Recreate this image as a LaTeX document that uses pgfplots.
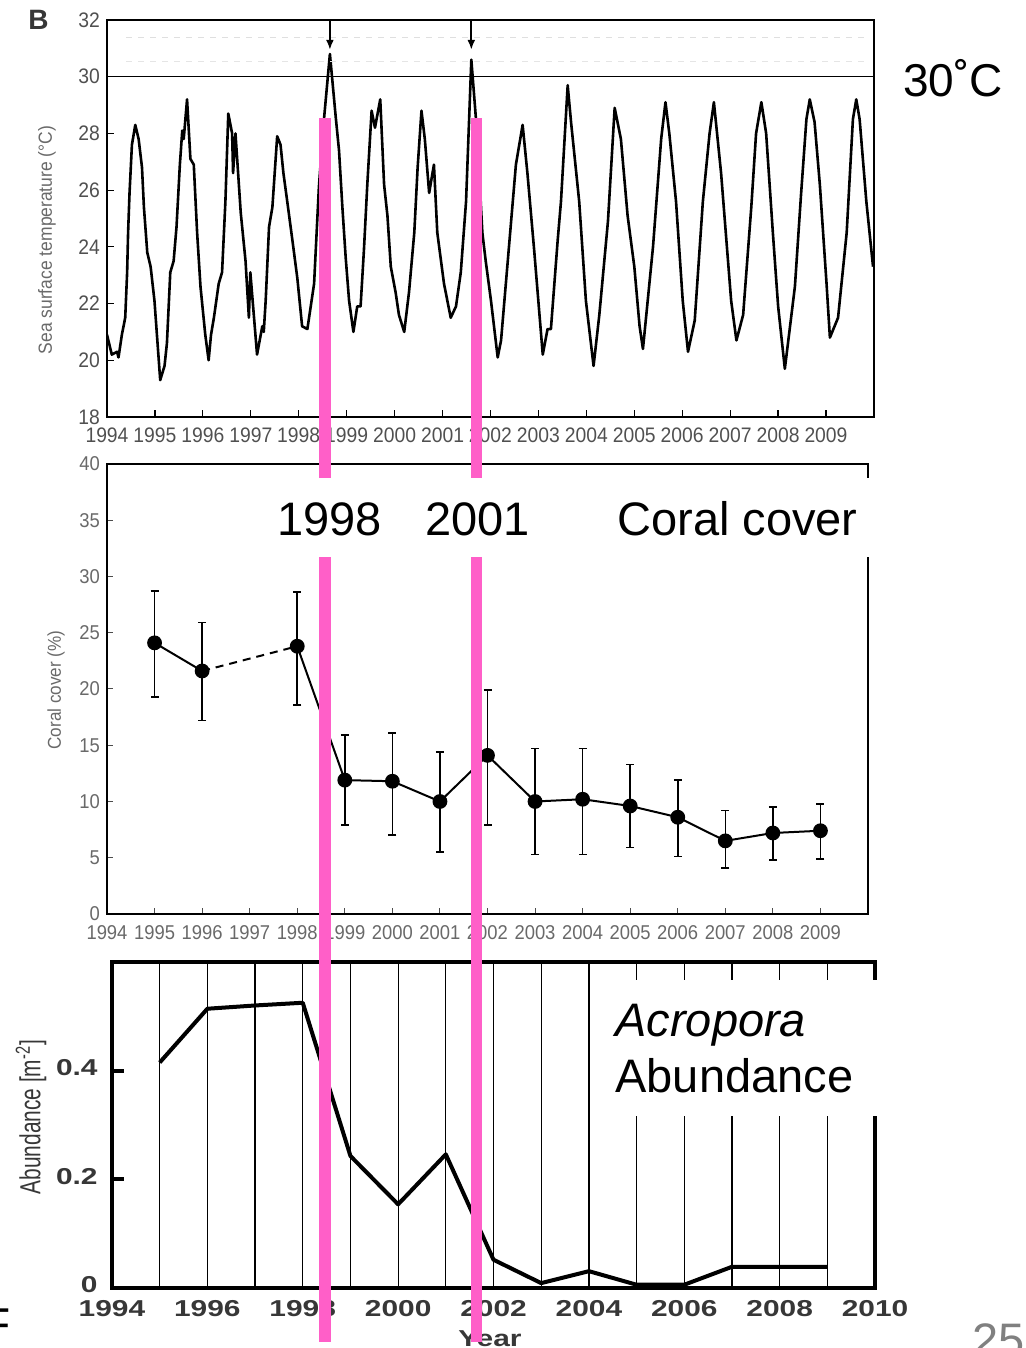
\documentclass[border=0pt]{standalone}
\usepackage{pgfplots}
\pgfplotsset{compat=1.18}
\usepackage{fontspec}
\setmainfont{Liberation Sans}
\setsansfont{Liberation Sans}
\newfontfamily\tickfont[FakeStretch=0.92]{Liberation Sans}
\newfontfamily\narrowfont[FakeStretch=0.72]{Liberation Sans}
\newfontfamily\widefont[FakeStretch=1.3]{Liberation Sans}
\usetikzlibrary{arrows.meta}
\definecolor{barpink}{RGB}{255,95,200}
\definecolor{sstgray}{RGB}{80,80,80}
\definecolor{coralgray}{RGB}{105,105,105}
\definecolor{abgray}{RGB}{55,55,55}

% sea surface temperature
\pgfplotstableread{
year T
1994.00 20.9
1994.10 20.2
1994.21 20.3
1994.24 20.1
1994.31 20.9
1994.38 21.5
1994.42 23.1
1994.44 24.5
1994.47 25.9
1994.52 27.6
1994.59 28.3
1994.66 27.8
1994.73 26.8
1994.77 25.4
1994.84 23.8
1994.91 23.3
1994.99 22.1
1995.11 19.3
1995.20 19.8
1995.25 20.6
1995.32 23.1
1995.39 23.5
1995.45 24.7
1995.52 26.9
1995.57 28.1
1995.60 27.8
1995.67 29.2
1995.74 27.1
1995.81 26.9
1995.88 24.5
1995.95 22.6
1996.05 20.9
1996.12 20.0
1996.17 20.9
1996.23 21.5
1996.33 22.7
1996.40 23.1
1996.47 25.6
1996.53 28.7
1996.61 28.0
1996.63 26.6
1996.68 28.0
1996.79 25.2
1996.89 23.5
1996.96 21.5
1996.99 23.1
1997.13 20.2
1997.24 21.2
1997.27 21.0
1997.31 22.1
1997.38 24.7
1997.45 25.4
1997.55 27.9
1997.62 27.6
1997.68 26.6
1997.76 25.6
1997.87 24.2
1997.97 22.9
1998.07 21.2
1998.18 21.1
1998.32 22.7
1998.42 26.1
1998.51 28.2
1998.65 30.8
1998.77 28.6
1998.84 27.4
1998.91 25.4
1998.98 23.6
1999.05 22.1
1999.14 21.0
1999.22 21.9
1999.29 21.9
1999.36 23.9
1999.43 26.2
1999.52 28.8
1999.59 28.2
1999.70 29.2
1999.78 26.2
1999.85 25.1
1999.92 23.3
2000.02 22.4
2000.09 21.6
2000.20 21.0
2000.30 22.4
2000.41 24.5
2000.48 26.8
2000.56 28.8
2000.63 27.8
2000.72 25.9
2000.82 26.9
2000.89 24.5
2001.03 22.7
2001.17 21.5
2001.28 21.9
2001.38 23.1
2001.49 25.6
2001.60 30.6
2001.72 28.0
2001.83 24.5
2001.90 23.5
2002.01 22.1
2002.15 20.1
2002.22 20.7
2002.29 22.1
2002.43 24.9
2002.53 26.9
2002.67 28.3
2002.77 26.6
2002.91 23.9
2003.09 20.2
2003.19 21.1
2003.26 21.1
2003.40 24.2
2003.47 25.6
2003.61 29.7
2003.68 28.4
2003.85 25.6
2003.99 22.1
2004.15 19.8
2004.27 21.6
2004.45 24.9
2004.59 28.9
2004.72 27.8
2004.86 25.1
2005.00 23.3
2005.11 21.2
2005.18 20.4
2005.39 24.0
2005.56 27.8
2005.65 29.1
2005.73 28.0
2005.87 25.6
2006.01 22.1
2006.12 20.3
2006.26 21.4
2006.43 25.6
2006.57 28.0
2006.66 29.1
2006.81 26.6
2007.02 22.1
2007.13 20.7
2007.27 21.6
2007.44 25.4
2007.54 28.0
2007.65 29.1
2007.75 28.0
2007.89 24.5
2008.00 21.9
2008.14 19.7
2008.35 22.6
2008.48 25.9
2008.59 28.5
2008.66 29.2
2008.76 28.4
2008.87 26.2
2009.01 22.7
2009.08 20.8
2009.25 21.5
2009.43 24.5
2009.56 28.5
2009.63 29.2
2009.70 28.5
2009.84 25.6
2009.98 23.3
}\ssttable

\begin{document}
\begin{tikzpicture}
\useasboundingbox (0,0) rectangle (512.5pt,674pt);

% --- B: sea surface temperature ---
\begin{axis}[
  at={(53.5pt,465.5pt)}, anchor=south west,
  scale only axis, width=383.5pt, height=198.5pt,
  xmin=1994, xmax=2010, ymin=18, ymax=32,
  xtick={1994,...,2009}, ytick={18,20,...,32},
  xtick pos=left, ytick pos=left,
  tick align=inside, major tick length=3.5pt,
  tick style={black, line width=0.6pt},
  axis line style={line width=1.2pt},
  /pgf/number format/assume math mode=true,
  /pgf/number format/1000 sep={},
  tick label style={font=\tickfont\fontsize{10.5}{12}\selectfont, text=sstgray},
  xticklabel style={yshift=-2pt, inner xsep=0pt},
]
\addplot[black, line width=1.3pt, line join=round] table[x=year, y=T] {\ssttable};
\draw[line width=0.8pt] (axis cs:1994,30) -- (axis cs:2010,30);
\draw[gray!25, dashed] (axis cs:1994.4,31.4) -- (axis cs:2009.8,31.4);
\draw[gray!20, dashed] (axis cs:1994.4,30.55) -- (axis cs:2009.8,30.55);
\draw[line width=0.9pt, -{Latex[length=5pt,width=4pt]}] (axis cs:1998.65,31.95) -- (axis cs:1998.65,30.95);
\draw[line width=0.9pt, -{Latex[length=5pt,width=4pt]}] (axis cs:2001.60,31.95) -- (axis cs:2001.60,30.95);
\end{axis}

% --- coral cover ---
\begin{axis}[
  at={(53.5pt,217pt)}, anchor=south west,
  scale only axis, width=380.5pt, height=225pt,
  xmin=1994, xmax=2010, ymin=0, ymax=40,
  xtick={1994,...,2009}, ytick={0,5,...,40},
  xtick pos=left, ytick pos=left,
  tick align=inside, major tick length=3pt,
  tick style={black!70, line width=0.5pt},
  axis line style={line width=1.2pt},
  /pgf/number format/assume math mode=true,
  /pgf/number format/1000 sep={},
  tick label style={font=\tickfont\fontsize{10}{12}\selectfont, text=coralgray},
  xticklabel style={yshift=-2pt, inner xsep=0pt},
]
\addplot[black, line width=1pt, dashed, dash pattern=on 4pt off 3pt] coordinates {(1996,21.6) (1998,23.8)};
\addplot[black, line width=1pt, mark=*, mark size=3.2pt,
  error bars/.cd, y dir=both, y explicit,
  error bar style={line width=0.8pt},
  error mark options={rotate=90, mark size=2pt, line width=0.8pt}]
  coordinates {
  (1995,24.1) += (0,4.6) -= (0,4.8)
  (1996,21.6) += (0,4.3) -= (0,4.4)
  };
\addplot[black, line width=1pt, mark=*, mark size=3.2pt,
  error bars/.cd, y dir=both, y explicit,
  error bar style={line width=0.8pt},
  error mark options={rotate=90, mark size=2pt, line width=0.8pt}]
  coordinates {
  (1998,23.8) += (0,4.8) -= (0,5.2)
  (1999,11.9) += (0,4.0) -= (0,4.0)
  (2000,11.8) += (0,4.3) -= (0,4.8)
  (2001,10.0) += (0,4.4) -= (0,4.5)
  (2002,14.1) += (0,5.8) -= (0,6.2)
  (2003,10.0) += (0,4.7) -= (0,4.7)
  (2004,10.2) += (0,4.5) -= (0,4.9)
  (2005,9.6)  += (0,3.7) -= (0,3.7)
  (2006,8.6)  += (0,3.3) -= (0,3.5)
  (2007,6.5)  += (0,2.7) -= (0,2.4)
  (2008,7.2)  += (0,2.3) -= (0,2.4)
  (2009,7.4)  += (0,2.4) -= (0,2.5)
  };
\end{axis}

% --- Acropora abundance ---
\begin{axis}[
  at={(56pt,30pt)}, anchor=south west,
  scale only axis, width=381.5pt, height=163pt,
  xmin=1994, xmax=2010, ymin=0, ymax=0.6,
  xtick={1994,1996,...,2010}, minor xtick={1995,1997,...,2009},
  ytick={0,0.2,0.4},
  xtick pos=left, ytick pos=left,
  xmajorgrids, xminorgrids,
  major grid style={black, line width=0.6pt},
  minor grid style={black, line width=0.6pt},
  tick align=inside, major tick length=6pt,
  xtick style={draw=none}, minor tick style={draw=none},
  ytick style={black, line width=2pt},
  axis line style={line width=2pt},
  /pgf/number format/assume math mode=true,
  /pgf/number format/1000 sep={},
  tick label style={font=\widefont\bfseries\fontsize{11.5}{13}\selectfont, text=abgray, inner sep=1pt},
  xticklabel style={yshift=-5pt},
  yticklabel style={xshift=-6pt, yshift=1.5pt},
]
\addplot[black, line width=2pt, line join=round] coordinates {
  (1995,0.415) (1996,0.514) (1997,0.520) (1998,0.525) (1999,0.243)
  (2000,0.154) (2001,0.246) (2002,0.052) (2003,0.009) (2004,0.031)
  (2005,0.006) (2006,0.006) (2007,0.039) (2008,0.039) (2009,0.039)
};
\end{axis}

% axis titles
\node[rotate=90, text=coralgray, font=\tickfont\fontsize{9.5}{11}\selectfont] at (23.5pt,554pt) {Sea surface temperature (\textdegree C)};
\node[rotate=90, text=coralgray, font=\tickfont\fontsize{9.3}{11}\selectfont] at (28pt,329pt) {Coral cover (\%)};
\node[rotate=90, text=abgray, font=\narrowfont\fontsize{14.5}{16}\selectfont] at (15.5pt,115.5pt) {Abundance [m\textsuperscript{-2}]};
\node[anchor=base, text=abgray, font=\widefont\bfseries\fontsize{11.5}{13}\selectfont] at (245pt,1pt) {Year};

% slide letters
\node[anchor=base west, inner sep=0pt, text=abgray, font=\bfseries\fontsize{14}{16}\selectfont] at (14pt,659pt) {B};
\node[anchor=base west, inner sep=0pt, font=\fontsize{23}{26}\selectfont] at (-9pt,3.5pt) {F};
\node[anchor=base west, inner sep=0pt, text=gray, font=\fontsize{23.5}{26}\selectfont] at (486pt,-4.5pt) {25};

% bleaching years
\fill[barpink] (159.5pt,3pt) rectangle (165.5pt,615pt);
\fill[barpink] (235.5pt,3pt) rectangle (241pt,615pt);

% annotations
\node[anchor=base west, inner sep=0pt, font=\fontsize{23}{26}\selectfont] at (451.5pt,625.5pt) {30˚C};
\fill[white] (132.5pt,395.5pt) rectangle (436pt,435pt);
\node[anchor=base west, inner sep=0pt, font=\fontsize{23.5}{26}\selectfont] at (138.5pt,406pt) {1998};
\node[anchor=base west, inner sep=0pt, font=\fontsize{23.5}{26}\selectfont] at (212.5pt,406pt) {2001};
\node[anchor=base west, inner sep=0pt, font=\fontsize{23.5}{26}\selectfont] at (308.5pt,406pt) {Coral cover};
\fill[white] (300pt,116pt) rectangle (440pt,184pt);
\node[anchor=base west, inner sep=0pt, font=\itshape\fontsize{23.5}{26}\selectfont] at (307.5pt,155.5pt) {Acropora};
\node[anchor=base west, inner sep=0pt, font=\fontsize{23.5}{26}\selectfont] at (307.5pt,127.5pt) {Abundance};
\end{tikzpicture}
\end{document}
